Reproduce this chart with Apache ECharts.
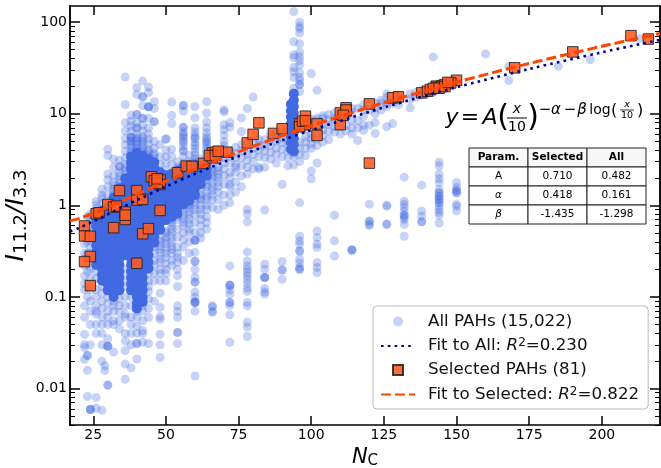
<!DOCTYPE html>
<html><head><meta charset="utf-8">
<style>html,body{margin:0;padding:0;background:#fff}#c{width:661px;height:468px}</style>
<script src="https://cdn.jsdelivr.net/npm/echarts@6/dist/echarts.min.js"></script>
</head><body><div id="c"></div>
<script>
// tick values
const xTicks=[25,50,75,100,125,150,175,200];
const yTicks=[0.01,0.1,1,10,100];
const yMinor=[0.004,0.005,0.006,0.007,0.008,0.009,0.02,0.03,0.04,0.05,0.06,0.07,0.08,0.09,0.2,0.3,0.4,0.5,0.6,0.7,0.8,0.9,2,3,4,5,6,7,8,9,20,30,40,50,60,70,80,90];
// All PAHs: light scattered values, one list per carbon number
const c22=[.6,.5,.45,.38,.3,.26,.22,.17,.14,.12,.08,.06,.039,.03,.028,.0208];
const c23=[.023,.023,.0158,.0082,.75,.4,.3,.19,.1];
const c24=[.0059,.0059,.0059,.03,.05,.07,.09,.12,.16,.2,.25,.3,.35,.42,.5,.6,.7,.8];
const c26=[.008,.0061,.04,.05,.065,.08,.1,.12,.16,.85,1.0,.9,1.1,.07,.19,.75];
const c28=[.0058,.0198,.03,.04,.05,.06,.075,.09,.11,.13,1.05,1.2,1.3,1.5];
const c29=[.0177,.0157];
const c30=[.0109,.0109,.029,.029,.029,.035,.05,.06,.07,.085,.1,1.1,1.3,1.6,1.9,2.2,3.5,4.1];
const c32=[.025,.05,.055,.07,.08,.09,1.3,1.5,1.8,2.1,2.6,3.2,1.4,1.65];
const c34=[.045,.055,.068,.08,.095,1.6,1.9,2.3,2.65,2.65,3.1,1.75,2.1];
const c36=[.0126,.0185,.026,.033,.04,.06,.065,.08,.1,.13,.16,.2,2,2.4,2.8,3.3,3.9,4.6,5.4,6.5,8,12.6,25.2,2.2,2.6];
const c38=[.0168,.03,.04,.05,.06,.08,.1,2.7,3.2,3.8,4.4,5,5.5,5.5,5.5,6.5,7.3,8.3,9.6,3.6,4,4.6,5];
const c40=[.021,.031,.031,.04,.048,.06,.07,3.6,4,4.5,5,5.5,6,7,7,8,9.8,9.8,16.2,19.3,3.8,4.2,4.8,5.3];
const c42=[.032,.04,.043,.055,.07,.08,3.3,3.8,4.3,5,5.6,6.5,7.5,8.9,8.9,12.3,15.3,15.3,22.7,3.6,4,4.6,5.3];
const c44=[.031,.06,.075,.095,.115,3.1,3.6,4.1,4.7,5.3,6,7,8.9,11.9,11.9,11.9,17,19.6,.13,.15,.18,3.4,3.9];
const c46=[.09,.15,.18,.22,2.7,3.2,3.7,4.2,5,8.2,8.2,11.4,13.5,.25,.3,.35,3,3.5];
const c48=[.0218,.03,.039,.057,.061,.077,.11,.15,.2,.26,.3,.36,.43,2.4,2.8,3.4,4.6,.18,.24,.33,.4];
const c50=[.18,.23,.3,.38,.45,.52,2.4,2.9,3.4,4,5.3,5.3,.15,.2,.27,.34,.42,.5];
const c52=[.25,.33,.4,.5,.6,.65,2.3,2.8,3.4,4.1,7.8,9.6,13.4,.22,.3,.36,.45,.55,.7];
const c54=[.031,.041,.041,.06,.07,.08,.13,.17,.2,.24,.27,.3,.35,.45,.55,.7,.75,2.6,3];
const c56=[.5,.65,.8,.9,2.9,3.4,3.9,4.4,5,5.7,6.3,7.1,7.1,10.7,12.3,12.3,.25,.35,.42,.6,.72,1,4,4.8,5.4,6];
const c58=[.55,.7,.85,1,3,3.5,.3,.4,.5,.62,.78,.95,1.05];
const c60=[.0137,.07,.087,.087,.087,.09,.1,.113,.145,.145,.164,.2,.245,.245,.307,.416,.416,.416,.507,.65,.8,1.0,1.2,3,3.5,4.2,4.8,5.3,5.8,6.3,7,9,12,.9,1.1,3.2,3.8,4.5,5.5];
const c62=[.44,.6,.8,1.0,1.3,3.2,.5,.7,.9,1.15,1.5,1.2];
const c64=[.75,.9,1.15,1.4,1.7,3.3,3.9,4.5,5,5.6,6.2,7,8.1,10.2,13.6,.55,.65,1,1.25,1.6,1.9,3.6,4.2,4.8,5.3];
const c66=[.068,.07,.078,.08,.95,1.3,1.6,2,2.3,2.7,1.15,1.45,1.8,2.15,2.5];
const c68=[.9,1.4,1.8,2.2,2.6,3.1,3.5,1.15,1.6,2,2.4];
const c70=[1.0,1.3,1.7,2.1,2.5,2.9,3.3,3.8,4.1,4.5,5,5.8,6.7,7.6,10.5,11];
const c72=[.032,.064,.081,.087,.087,.107,.119,.134,.134,.134,.218,1.07,1.6,1.7,2.3,2.9,3.4,3.9,7.1,8,1.3,2];
const c74=[1.4,2.3,2.8,3.3,3.7,4.3,1.8,2.6];
const c76=[1.6,2.1,2.7,3.3,3.9,4.6,6.4,9];
const c78=[.037,.047,.053,.08,.087,.115,.125,.14,.155,.17,.185,.2,.218,.247,.31,.66,.81,.9,2.2,2.6,3.1,3.6,4.2,4.8,11.4];
const c80=[2.5,3,3.6,4.2,4.9,15.2];
const c82=[2.5,2.6,3.4,4,4.6,5.2];
const c84=[.107,.113,.124,.163,.163,.163,.2,.228,.89,2.6,3.3,3.9,4.5,5.2];
const c86=[3.2,3.8,4.5,5.2,5.9];
const c88=[2.9,3.6,4.2,5,5.6,6.1];
const c90=[.156,.197,.197,.243,1.7,3.4,4.1,4.8,5.4,6.2];
const c92=[2.7,3.3,3.9,4.6,5.3,6.8];
const c94=[2.75,3.4,3.7,19,24.8,28.7,32,41,44,61,130];
const c96=[.2,.2,.21,.235,.258,.317,.317,.376,.41,.46,1.07,3,3.6,4.2,4.9,17.5,20.8,20.8,23,24.8,28,34,38,42,47,58,76,85,90,100];
const c98=[3.5,4.2,4.9,5.6,6.8,8,8.9];
const c100=[1.95,2.37,4.2,4.7,5.4,6,8.1,8.7,27.5];
const c102=[.185,.21,.237,.346,.376,.444,.525,2.9,4.5,5.3,6.1,8.5,9,18];
const c104=[4.9,5.8,6.7,7.7,8.9,9.5];
const c106=[5.2,6.4,7.6,8.6,9.8];
const c108=[.28,.41,.78,6.3,7.2,8.8,10.2];
const c110=[6,7.2,8.6,10];
const c112=[6.5,7.5,9.4,10.5,11];
const c114=[.325,.325,.325,6,7,8.4,10.3,11.4];
const c116=[5.1,7,8.4,11.5];
const c118=[6.6,7.5,9.3,11,12.5];
const c120=[.6,.62,.67,.67,1.03,7.5,11];
const c122=[6.1,8,10,11.5,13];
const c124=[11,13,14];
const c126=[.62,.62,.98,1,7.2,12,13,15,16.5];
const c128=[7.8,13,14];
const c130=[12.5,14,16];
const c132=[.46,.62,.7,.74,.78,.78,.86,.95,1.03,1.11,2.03];
const c134=[11.6,14.5,16.5];
const c136=[15,17];
const c138=[.66,.66,.76,.87,1.66,16,18];
const c140=[16.5,17];
const c142=[17,18,41.7];
const c144=[.64,.78,.84,.9,.98,1.07,1.07,1.16,1.16,1.26,1.26,1.37,1.37,1.49,1.77,1.95,2.18,2.68,2.96,19];
const c146=[19.5];
const c150=[.87,.98,1.03,1.37,1.37,1.45,1.45,1.57,1.77,22];
const c160=[45];
const c168=[23,33];
const c185=[33];
const c196=[39];
const c213=[66];
const columnN=[22,23,24,26,28,29,30,32,34,36,38,40,42,44,46,48,50,52,54,56,58,60,62,64,66,68,70,72,74,76,78,80,82,84,86,88,90,92,94,96,98,100,102,104,106,108,110,112,114,116,118,120,122,124,126,128,130,132,134,136,138,140,142,144,146,150,160,168,185,196,213];
const columnY=[c22,c23,c24,c26,c28,c29,c30,c32,c34,c36,c38,c40,c42,c44,c46,c48,c50,c52,c54,c56,c58,c60,c62,c64,c66,c68,c70,c72,c74,c76,c78,c80,c82,c84,c86,c88,c90,c92,c94,c96,c98,c100,c102,c104,c106,c108,c110,c112,c114,c116,c118,c120,c122,c124,c126,c128,c130,c132,c134,c136,c138,c140,c142,c144,c146,c150,c160,c168,c185,c196,c213];
// All PAHs: where thousands of points pile up into a solid mass
const d26=[.224,.263,.31,.364,.427,.5,.59,.69];
const d28=[.15,.175,.205,.24,.285,.335,.39,.46,.54,.64,.75,.88];
const d30=[.118,.138,.162,.19,.224,.263,.31,.364,.427,.5,.59,.69,.81,.95];
const d32=[.1,.127,.15,.175,.205,.24,.285,.335,.39,.46,.54,.64,.75,.88,1.03,1.21];
const d34=[.118,.138,.162,.19,.224,.263,.31,.364,.427,.5,.59,.69,.81,.95,1.12,1.31,1.54];
const d36=[.285,.335,.39,.46,.54,.64,.75,.88,1.03,1.21,1.42,1.67,1.96];
const d38=[.118,.138,.162,.19,.224,.263,.31,.364,.427,.5,.59,.69,.81,.95,1.12,1.31,1.54,1.81,2.13,2.5,2.94,3.4];
const d40=[.075,.085,.1,.127,.15,.175,.205,.24,.285,.335,.39,.46,.54,.64,.75,.88,1.03,1.21,1.42,1.67,1.96,2.3,2.7,3.18,3.75];
const d42=[.088,.1,.118,.138,.162,.19,.224,.263,.31,.364,.427,.5,.59,.69,.81,.95,1.12,1.31,1.54,1.81,2.13,2.5,2.94,3.45];
const d44=[.205,.24,.285,.335,.39,.46,.54,.64,.75,.88,1.03,1.21,1.42,1.67,1.96,2.3,2.7,3.18];
const d46=[.39,.46,.5,.59,.69,.81,.95,1.12,1.31,1.54,1.81,2.13,2.5,2.94];
const d48=[.54,.64,.75,.88,1.03,1.21,1.42,1.67,1.96,2.3];
const d50=[.69,.81,.95,1.12,1.31,1.54,1.81,2.13];
const d52=[.75,.88,1.03,1.21,1.42,1.67,1.96,2.2];
const d54=[.81,.95,1.12,1.31,1.54,1.81,2.13,2.4];
const d56=[1.03,1.21,1.42,1.67,1.96,2.3,2.6];
const d58=[1.12,1.31,1.54,1.81,2.13,2.5,2.7];
const d60=[1.3,1.54,1.81,2.13,2.5,2.8];
const d62=[1.7,1.96,2.3,2.7];
const d64=[2.1,2.5,2.9];
const d93=[4.1,4.8,5.6,6.6,7.8,9.2,10.8,12.7];
const d94=[3.9,4.6,5.4,6.3,7.4,8.7,10.2,12,14,16.5];
const denseN=[26,28,30,32,34,36,38,40,42,44,46,48,50,52,54,56,58,60,62,64,93,94];
const denseY=[d26,d28,d30,d32,d34,d36,d38,d40,d42,d44,d46,d48,d50,d52,d54,d56,d58,d60,d62,d64,d93,d94];
// Selected PAHs (81)
const selN=[22,22,24,24,22,24,26,27,30,32,33,32,34,36,36,40,40,42,42,44,40,48,45,48,48,46,54,57,59,63,66,67,66,71,78,80,82,87,90,96,98,98,102,102,110,112,112,110,120,120,128,130,138,140,141,143,145,146,143,150,148,145,170,190,210,216,65,67,68,96,97,98,112,111,142,144,146,147,47,47,36];
const selY=[.595,.463,.459,.276,.243,.133,.81,.83,1.02,.96,.98,.57,1.45,.845,.70,1.45,1.14,1.16,.49,.557,.233,.88,2.05,1.89,1.69,1.85,2.27,2.68,2.66,2.87,3.75,3.8,3.3,3.8,4.8,5.95,7.95,6.1,6.85,7.75,9.4,7.6,7.75,5.8,10.2,11.6,10.7,7.6,12.8,2.89,14.9,15.3,16.9,17.6,18.4,20,20.3,20.8,19.4,23.2,21.7,19.8,31.7,47.3,71.2,65.4,3.5,3.5,3.9,7.2,8.3,8.4,11,9.6,18.9,19,19.8,22,1.75,1.95,.78];
// Fit curves read at these carbon numbers
const fitN=[17,20,25,30,35,40,50,60,75,90,100,125,150,175,200,220];
const fitAllY=[.519,.565,.667,.797,.954,1.139,1.602,2.207,3.44,5.14,6.61,11.7,19.45,30.8,46.8,64.0];
const fitSelY=[.678,.717,.817,.952,1.119,1.318,1.821,2.483,3.84,5.74,7.38,13.17,22.1,35.4,54.5,75.2];
// Parameter table
const tableHead=["Param.","Selected","All"];
const tableParams=["A","α","β"];
const tableSelected=["0.710","0.418","-1.435"];
const tableAll=["0.482","0.161","-1.298"];

const F='"DejaVu Sans"';
const allPts=columnN.flatMap((n,i)=>columnY[i].map(y=>[n,y]));
const densePts=denseN.flatMap((n,i)=>denseY[i].map(y=>[n,y]));
const selPts=selN.map((n,i)=>[n,selY[i]]);
const zip=(ys)=>fitN.map((n,i)=>[n,ys[i]]);

function baseY(extra){return Object.assign({type:'log',logBase:10,min:0.004,max:150,splitLine:{show:false},minorTick:{show:false},axisLine:{show:true,onZero:false,lineStyle:{color:'#000',width:1.5}}},extra);}
const noLabel={show:false};

// table + formula as text
const g=[];
function T(x,y,text,fs,o){g.push({type:'text',x,y,z:50,style:Object.assign({text,fontFamily:F,fontSize:fs,fill:'#000',align:'center',verticalAlign:'middle'},o||{})});}
const colX=[469,528,587,646],rowY=[148,167,186,205,224];
for(let c=0;c<3;c++)for(let r=0;r<4;r++){
  g.push({type:'rect',z:49,shape:{x:colX[c],y:rowY[r],width:colX[c+1]-colX[c],height:rowY[r+1]-rowY[r]},style:{fill:r==0?'#f7f7f7':'#fff',stroke:'#222',lineWidth:1}});
}
tableHead.forEach((t,i)=>T((colX[i]+colX[i+1])/2,157.5,t,10.5,{fontWeight:'bold'}));
tableParams.forEach((t,i)=>T(498.5,176.5+19*i,t,10.5,i?{fontStyle:'italic'}:{}));
tableSelected.forEach((t,i)=>T(557.5,176.5+19*i,t,10.5));
tableAll.forEach((t,i)=>T(616.5,176.5+19*i,t,10.5));
const it={fontStyle:'italic'};
T(452,118,'y',22,it);T(470,118,'=',22);T(490,118,'A',22,it);
T(503,118,'(',30);T(533,118,')',30);
T(517,109,'x',14,it);T(517,127,'10',14);
g.push({type:'line',z:50,shape:{x1:507,y1:118,x2:527,y2:118},style:{stroke:'#000',lineWidth:1}});
T(545,110,'−',15);T(556,110,'α',15,it);T(570,110,'−',15);T(582,110,'β',15,it);T(600,110,'log',14);
T(614,111,'(',16);T(640,111,')',16);T(627,105,'x',9.5,it);T(627,116,'10',9.5);
g.push({type:'line',z:50,shape:{x1:620,y1:110,x2:634,y2:110},style:{stroke:'#000',lineWidth:.8}});

const legendLabels={
 'All PAHs':'{g|}{t|All PAHs (15,022)}',
 'Fit to All':'{g|}{t|Fit to All: }{i|R}{u|2}{t|=0.230}',
 'Selected PAHs':'{g|}{t|Selected PAHs (81)}',
 'Fit to Selected':'{g|}{t|Fit to Selected: }{i|R}{u|2}{t|=0.822}'
};
const square='path://M0 0H10V10H0Z';
const hidden={opacity:0,borderWidth:0};
const option={
 animation:false,backgroundColor:'#fff',
 textStyle:{fontFamily:F},
 grid:{left:70,right:1,top:6,bottom:43,containLabel:false,outerBoundsMode:'none'},
 xAxis:[
  {type:'value',min:17,max:220,position:'bottom',splitLine:{show:false},
   axisLine:{show:true,onZero:false,lineStyle:{color:'#000',width:1.5}},
   axisTick:{show:true,inside:true,length:9,lineStyle:{color:'#000',width:1.5},customValues:xTicks},
   axisLabel:{show:true,customValues:xTicks,color:'#000',fontSize:14,fontFamily:F,margin:3},
   name:'{i|N}{s|C}',nameLocation:'middle',nameGap:17,
   nameTextStyle:{rich:{i:{fontFamily:F,fontStyle:'italic',fontSize:21,color:'#000',lineHeight:22},s:{fontFamily:F,fontSize:15,color:'#000',verticalAlign:'bottom',padding:[8,0,0,0]}}}},
  {type:'value',min:17,max:220,position:'top',splitLine:{show:false},
   axisLine:{show:true,onZero:false,lineStyle:{color:'#000',width:1.5}},
   axisTick:{show:true,inside:true,length:9,lineStyle:{color:'#000',width:1.5},customValues:xTicks},
   axisLabel:noLabel}
 ],
 yAxis:[
  baseY({position:'left',
   axisTick:{show:true,inside:true,length:10,lineStyle:{color:'#000',width:1.5},customValues:yTicks},
   axisLabel:{show:true,customValues:yTicks,color:'#000',fontSize:14,fontFamily:F,margin:3,formatter:v=>String(+(+v).toPrecision(2))},
   name:'{i|I}{s|11.2}{i|/}{i|I}{s|3.3}',nameLocation:'middle',nameGap:40,nameRotate:90,nameMoveOverlap:false,
   nameTextStyle:{rich:{i:{fontFamily:F,fontStyle:'italic',fontSize:25,color:'#000',lineHeight:28},s:{fontFamily:F,fontSize:18,color:'#000',verticalAlign:'bottom',padding:[8,0,0,0]}}}}),
  baseY({position:'left',axisTick:{show:true,inside:true,length:5,lineStyle:{color:'#000',width:1},customValues:yMinor},axisLabel:noLabel}),
  baseY({position:'right',axisTick:{show:true,inside:true,length:10,lineStyle:{color:'#000',width:1.5},customValues:yTicks},axisLabel:noLabel}),
  baseY({position:'right',axisTick:{show:true,inside:true,length:5,lineStyle:{color:'#000',width:1},customValues:yMinor},axisLabel:noLabel})
 ],
 legend:{
  orient:'vertical',left:373,top:306,padding:[7,9,6,7],itemGap:7,itemWidth:34,itemHeight:10,
  backgroundColor:'rgba(255,255,255,0.85)',borderColor:'#bbb',borderWidth:1,borderRadius:4,
  data:[{name:'All PAHs',icon:'circle',itemStyle:{color:'#4169e1',opacity:.3}},{name:'Fit to All',itemStyle:hidden},{name:'Selected PAHs',icon:square},{name:'Fit to Selected',itemStyle:hidden}],
  formatter:n=>legendLabels[n],
  textStyle:{rich:{g:{width:8},t:{fontFamily:F,fontSize:16.7,color:'#111',lineHeight:18},i:{fontFamily:F,fontStyle:'italic',fontSize:16.7,color:'#111',lineHeight:18},u:{fontFamily:F,fontSize:12,color:'#111',verticalAlign:'top',lineHeight:18}}}
 },
 graphic:g,
 series:[
  {name:'All PAHs',type:'scatter',symbolSize:9,data:allPts,z:2,itemStyle:{color:'#4169e1',opacity:.3,borderWidth:0},silent:true},
  {name:'All PAHs',type:'scatter',symbolSize:10,data:densePts,z:2,itemStyle:{color:'#4169e1',opacity:1,borderWidth:0},silent:true},
  {name:'Selected PAHs',type:'scatter',symbol:'rect',symbolSize:10.5,data:selPts,z:3,itemStyle:{color:'#ff5a1f',opacity:.88,borderColor:'#222',borderWidth:1},silent:true},
  {name:'Fit to All',type:'line',data:zip(fitAllY),smooth:.3,symbol:'none',showSymbol:false,z:4,lineStyle:{color:'#00008b',width:2.6,type:[2.6,4.2]},itemStyle:{color:'#00008b'}},
  {name:'Fit to Selected',type:'line',data:zip(fitSelY),smooth:.3,symbol:'none',showSymbol:false,z:5,lineStyle:{color:'#ff4500',width:3,type:[10,4]},itemStyle:{color:'#ff4500'}}
 ]
};
echarts.init(document.getElementById('c'),null,{renderer:'canvas'}).setOption(option);
</script></body></html>
